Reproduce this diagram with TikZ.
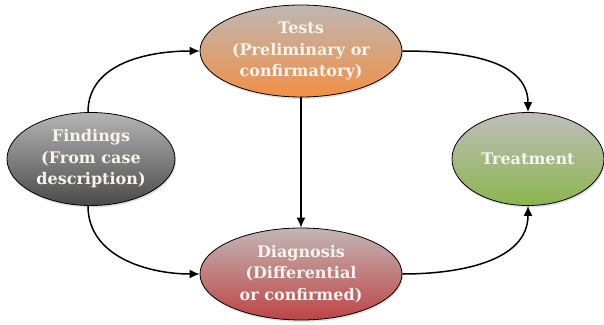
\documentclass[tikz,border=0pt]{standalone}
\usepackage{fontspec}
\setmainfont{DejaVu Serif}
\usetikzlibrary{shapes.geometric,arrows.meta,shadows}
\definecolor{topgray}{HTML}{BDB8B4}
\definecolor{orangeB}{HTML}{F28F45}
\definecolor{grayTop}{HTML}{B5B5B5}
\definecolor{grayB}{HTML}{4A4A4A}
\definecolor{greenTop}{HTML}{BEBEBA}
\definecolor{greenB}{HTML}{8CB54E}
\definecolor{redTop}{HTML}{C2B6B6}
\definecolor{redB}{HTML}{BE4444}
\definecolor{txt}{HTML}{F7F3EE}
\begin{document}
\begin{tikzpicture}[x=1pt,y=-1pt,
  oval/.style={ellipse, draw=black, line width=0.8pt, inner sep=0pt,
    font=\bfseries\fontsize{16}{21.5}\selectfont, text=txt, align=center,
    drop shadow={shadow xshift=1pt, shadow yshift=-2pt, opacity=0.25}},
  conn/.style={-{Latex[length=10pt,width=9pt]}, line width=1.5pt}]
\useasboundingbox (0,0) rectangle (604,324);
\node[oval, minimum width=202pt, minimum height=92pt, top color=topgray, bottom color=orangeB] (tests) at (301,51) {Tests\\(Preliminary or\\confirmatory)};
\node[oval, minimum width=168pt, minimum height=93pt, top color=grayTop, bottom color=grayB] (find) at (91,159) {Findings\\(From case\\description)};
\node[oval, minimum width=152pt, minimum height=93pt, top color=greenTop, bottom color=greenB] (treat) at (528,159) {Treatment};
\node[oval, minimum width=202pt, minimum height=92pt, top color=redTop, bottom color=redB] (diag) at (301,274) {Diagnosis\\(Differential\\or confirmed)};
\draw[conn] (find.north) ++(-3,0) coordinate (f1) (f1) to[out=90,in=180] (tests.west);
\draw[conn] (tests.east) to[out=0,in=90] (treat.north);
\draw[conn] (tests.south) -- (diag.north);
\draw[conn] (find.south) ++(-3,0) coordinate (f2) (f2) to[out=-90,in=180] (diag.west);
\draw[conn] (diag.east) to[out=0,in=-90] (treat.south);
\end{tikzpicture}
\end{document}
